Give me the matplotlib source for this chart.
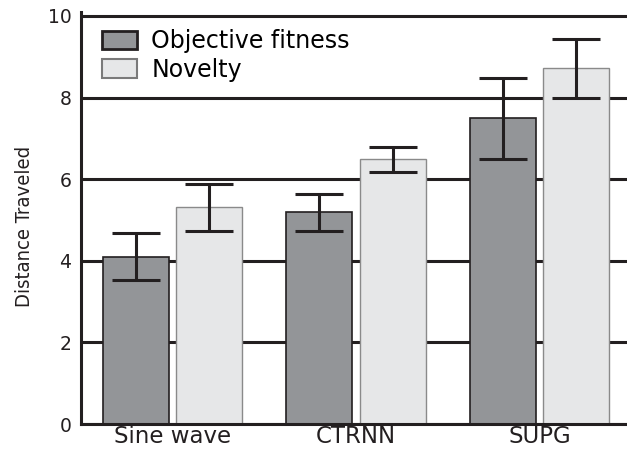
import matplotlib.pyplot as plt
import numpy as np
from matplotlib.patches import Patch
from matplotlib import font_manager

# values
categories = ["Sine wave", "CTRNN", "SUPG"]
objective_mean = [4.10, 5.19, 7.49]
objective_err = [0.58, 0.45, 1.00]
novelty_mean = [5.31, 6.49, 8.72]
novelty_err = [0.57, 0.31, 0.72]
yticks = [0, 2, 4, 6, 8, 10]

dark = "#939598"
light = "#e6e7e8"
ink = "#231f20"

plt.rcParams['font.family'] = ['DejaVu Sans']

# narrow face for the y label, if one is installed
names = {f.name for f in font_manager.fontManager.ttflist}
condensed = [f for f in font_manager.fontManager.ttflist
             if f.name == 'DejaVu Sans' and 'condensed' in str(f.stretch)]
if 'Liberation Sans Narrow' in names:
    ylab_font = dict(family=['Liberation Sans Narrow', 'DejaVu Sans'], fontsize=17)
elif condensed:
    ylab_font = dict(family=['DejaVu Sans'], fontstretch='condensed', fontsize=14.5)
else:
    ylab_font = dict(family=['DejaVu Sans'], fontsize=13.5)

fig = plt.figure(figsize=(6.27, 4.53), dpi=100)
ax = fig.add_axes([81 / 627, 29 / 453, 1 - 81 / 627, (453 - 11.9 - 29) / 453])

x = np.arange(len(categories))
width = 0.36
off = 0.2

ax.bar(x - off, objective_mean, width, color=dark, edgecolor=ink, linewidth=1.2, zorder=3)
ax.bar(x + off, novelty_mean, width, color=light, edgecolor="#8a8a8a", linewidth=1.0, zorder=3)
ax.errorbar(x - off, objective_mean, yerr=objective_err, fmt='none', ecolor=ink,
            elinewidth=2.2, capsize=17, capthick=2.2, zorder=4)
ax.errorbar(x + off, novelty_mean, yerr=novelty_err, fmt='none', ecolor=ink,
            elinewidth=2.2, capsize=17, capthick=2.2, zorder=4)

ax.set_xlim(-0.499, 2.477)
ax.set_ylim(0, 10.1)
ax.set_yticks(yticks)
ax.set_xticks(x)
ax.set_xticklabels(categories, fontsize=16.5)
ax.tick_params(axis='y', length=0, pad=7, labelsize=13.5, colors=ink)
ax.tick_params(axis='x', length=0, pad=1, colors=ink)

ax.yaxis.grid(True, color=ink, linewidth=2.2, zorder=1)
ax.set_axisbelow(True)
for side in ['top', 'right']:
    ax.spines[side].set_visible(False)
for side in ['left', 'bottom']:
    ax.spines[side].set_linewidth(2.2)
    ax.spines[side].set_color(ink)
    ax.spines[side].set_zorder(5)

ax.set_ylabel("Distance Traveled", color=ink, **ylab_font)
ax.yaxis.set_label_coords(-0.086, 0.48)

handles = [Patch(facecolor=dark, edgecolor=ink, linewidth=2.0, label="Objective fitness"),
           Patch(facecolor=light, edgecolor="#7a7a7a", linewidth=1.5, label="Novelty")]
ax.legend(handles=handles, loc='upper left', bbox_to_anchor=(0.038, 0.958), frameon=False,
          fontsize=17, handlelength=1.5, handleheight=0.8, handletextpad=0.6,
          labelspacing=0.19, borderaxespad=0, borderpad=0)

fig.savefig("out.png", dpi=100)
